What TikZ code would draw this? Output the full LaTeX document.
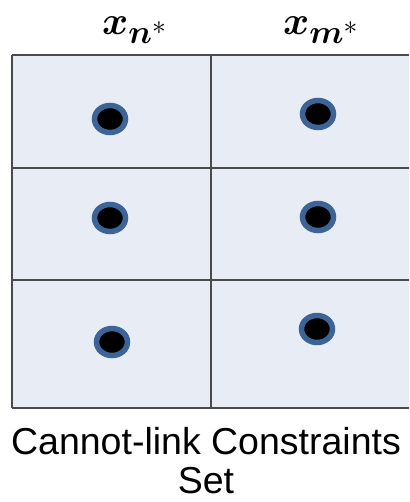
\documentclass[tikz,border=0pt]{standalone}
\usepackage{fontspec}
\usepackage{amsmath,bm,graphicx}
\setsansfont{Liberation Sans}
\definecolor{cellfill}{HTML}{E8ECF4}
\definecolor{gridline}{HTML}{4A4A4A}
\definecolor{ringblue}{HTML}{3C6496}
\usetikzlibrary{shapes.geometric}
\newcommand{\headmath}[1]{\scalebox{1.6}{\Huge$#1$}}
\tikzset{
  gridrule/.style={draw=gridline, line width=1.6pt},
  pointmark/.style={ellipse, minimum width=31pt, minimum height=27pt, inner sep=0pt,
    fill=black, draw=ringblue, line width=5.5pt},
  headlabel/.style={inner sep=0pt, anchor=base west},
  caption/.style={font=\sffamily\fontsize{37.5}{39}\selectfont, align=center, inner sep=0pt, anchor=base}
}
\begin{document}
\begin{tikzpicture}[x=1pt,y=-1pt]
  \useasboundingbox (0,0) rectangle (409,502);
  % table background
  \fill[cellfill] (12,55) rectangle (409,408);
  % grid lines
  \draw[gridrule] (12,55) -- (409,55);
  \draw[gridrule] (12,168) -- (409,168);
  \draw[gridrule] (12,280) -- (409,280);
  \draw[gridrule] (12,408) -- (409,408);
  \draw[gridrule] (12,55) -- (12,408);
  \draw[gridrule] (211,55) -- (211,408);
  % column headings
  \node[headlabel] (hn) at (102,35) {\headmath{\bm{x}_{\bm{n}^*}}};
  \node[headlabel] (hm) at (283,35) {\headmath{\bm{x}_{\bm{m}^*}}};
  % points in each cell
  \node[pointmark] (p11) at (110,119) {};
  \node[pointmark] (p21) at (110,218) {};
  \node[pointmark] (p31) at (112,342) {};
  \node[pointmark] (p12) at (318,114) {};
  \node[pointmark] (p22) at (318,217) {};
  \node[pointmark] (p32) at (317,329) {};
  % caption (base anchor sits on the last line)
  \node[caption] (cap) at (206,493) {Cannot-link Constraints\\Set};
\end{tikzpicture}
\end{document}
